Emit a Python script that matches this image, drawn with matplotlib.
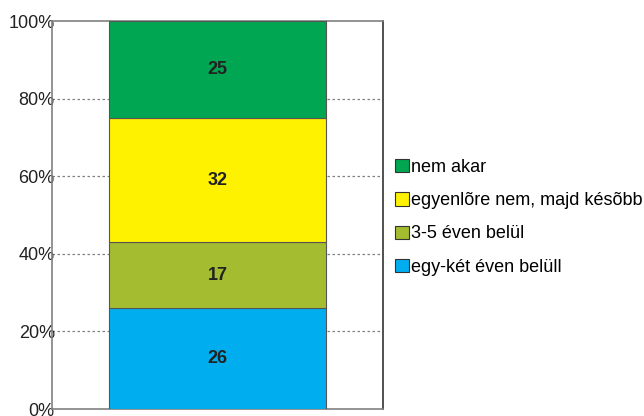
import matplotlib
matplotlib.use("Agg")
import matplotlib.pyplot as plt
from matplotlib.patches import Patch

plt.rcParams['font.family'] = ['Liberation Sans', 'DejaVu Sans']

categories = ["egy-két éven belüll", "3-5 éven belül", "egyenlõre nem, majd késõbb", "nem akar"]
values = [26, 17, 32, 25]
colors = ["#00AEEF", "#A4BD30", "#FFF200", "#00A651"]
yticks = [0, 20, 40, 60, 80, 100]
yticklabels = ["0%", "20%", "40%", "60%", "80%", "100%"]

fig = plt.figure(figsize=(6.44, 4.16), dpi=100)
ax = fig.add_axes([52/644, 1-409/416, (383-52)/644, (409-21)/416])

bottom = 0
for cat, v, c in zip(categories, values, colors):
    ax.bar(0, v, bottom=bottom, width=0.653, color=c, edgecolor="#555555", linewidth=0.8, zorder=3)
    ax.text(0, bottom + v/2, str(v), ha="center", va="center", fontsize=13,
            fontweight="bold", color="#222222", zorder=4)
    bottom += v

ax.set_xlim(-0.5, 0.5)
ax.set_ylim(0, 100)
ax.set_xticks([])
ax.set_yticks(yticks)
ax.set_yticklabels(yticklabels, fontsize=13, color="#222222")
ax.tick_params(axis="y", length=0, pad=-2)
for y in yticks[1:-1]:
    ax.axhline(y, color="#808080", linestyle=(0, (2, 2)), linewidth=0.9, zorder=1)
for s in ["left", "bottom", "top"]:
    ax.spines[s].set_color("#808080")
    ax.spines[s].set_linewidth(1.2)
ax.spines["right"].set_color("#333333")
ax.spines["right"].set_linewidth(1.2)

handles = [Patch(facecolor=c, edgecolor="#333333", linewidth=0.8) for c in colors]
leg = fig.legend(handles[::-1], categories[::-1], loc="upper left",
                 bbox_to_anchor=(395/644, 1-159/416), frameon=False, fontsize=13,
                 handlelength=0.75, handleheight=0.75, handletextpad=0.15,
                 labelspacing=0.9, borderaxespad=0, borderpad=0)

fig.savefig("out.png", dpi=100)
